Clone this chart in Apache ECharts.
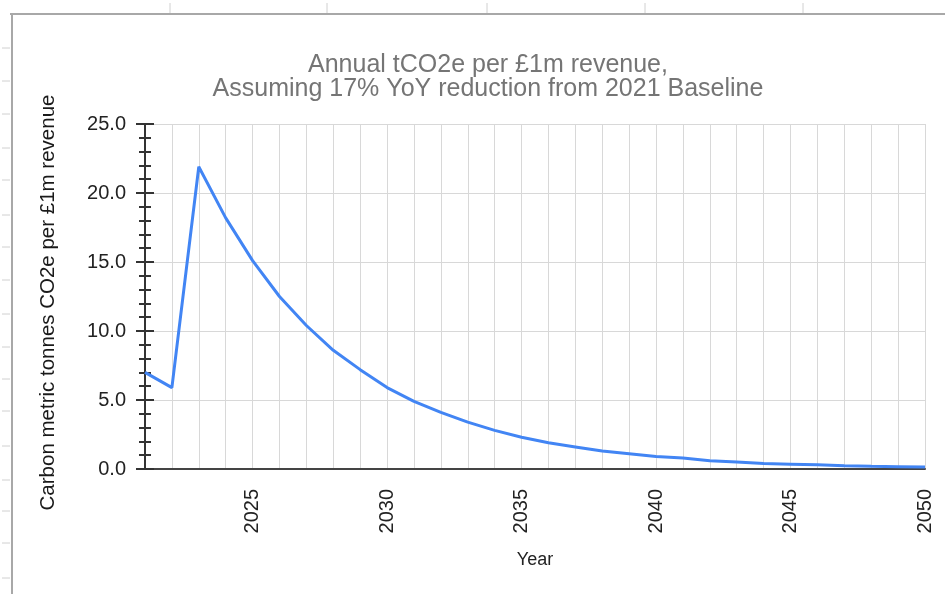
<!DOCTYPE html>
<html>
<head>
<meta charset="utf-8">
<script src="https://cdn.jsdelivr.net/npm/echarts@6/dist/echarts.min.js"></script>
<style>
html,body{margin:0;padding:0;background:#fff;}
#chart{width:945px;height:594px;}
</style>
</head>
<body>
<div id="chart"></div>
<script>
// Data
const years = [2021,2022,2023,2024,2025,2026,2027,2028,2029,2030,2031,2032,2033,2034,2035,2036,2037,2038,2039,2040,2041,2042,2043,2044,2045,2046,2047,2048,2049,2050];
const tco2e = [7.0,5.9,21.9,18.2,15.1,12.5,10.4,8.6,7.2,5.9,4.9,4.1,3.4,2.8,2.3,1.9,1.6,1.3,1.1,0.9,0.8,0.6,0.5,0.4,0.35,0.3,0.24,0.2,0.17,0.14];
const yTicks = [0, 5, 10, 15, 20, 25];
const xLabelYears = [2025, 2030, 2035, 2040, 2045, 2050];

const titleText = 'Annual tCO2e per £1m revenue,\nAssuming 17% YoY reduction from 2021 Baseline';
const xName = 'Year';
const yName = 'Carbon metric tonnes CO2e per £1m revenue';

const FONT = '"Liberation Sans", Arial, Helvetica, sans-serif';
const chart = echarts.init(document.getElementById('chart'), null, {renderer: 'canvas'});

// spreadsheet frame decorations (not data)
const deco = [];
deco.push({type:'line', shape:{x1:10,y1:14,x2:945,y2:14}, style:{stroke:'#a8a8a8', lineWidth:2}, silent:true, z:0});
deco.push({type:'line', shape:{x1:12,y1:14,x2:12,y2:594}, style:{stroke:'#a8a8a8', lineWidth:2}, silent:true, z:0});
[170,327,487,645,803].forEach(x => deco.push({type:'line', shape:{x1:x,y1:3,x2:x,y2:13}, style:{stroke:'#d0d0d0', lineWidth:1}, silent:true}));
[48,81,114,148,180,215,247,280,314,347,379,411,446,480,511,543,578].forEach(y => deco.push({type:'line', shape:{x1:2,y1:y,x2:10,y2:y}, style:{stroke:'#d0d0d0', lineWidth:1}, silent:true}));

const yMin = yTicks[0], yMax = yTicks[yTicks.length-1], yStep = yTicks[1]-yTicks[0];

chart.setOption({
  backgroundColor: '#ffffff',
  animation: false,
  textStyle: {fontFamily: FONT},
  title: {
    text: titleText,
    left: 483,
    top: 48,
    textAlign: 'center',
    textStyle: {fontFamily: FONT, fontSize: 25, fontWeight: 'normal', color: '#757575', lineHeight: 24}
  },
  graphic: deco,
  grid: {left: 145, right: 20, top: 124, bottom: 125, containLabel: false},
  xAxis: {
    type: 'value',
    min: years[0],
    max: years[years.length-1],
    interval: 1,
    name: xName,
    nameLocation: 'middle',
    nameGap: 82,
    nameTextStyle: {fontFamily: FONT, fontSize: 18, color: '#222'},
    axisLine: {show: true, onZero: false, lineStyle: {color: '#444', width: 2}},
    axisTick: {show: false},
    axisLabel: {
      rotate: 90,
      margin: 20,
      fontSize: 20,
      color: '#222',
      fontFamily: FONT,
      formatter: v => xLabelYears.indexOf(v) >= 0 ? String(v) : ''
    },
    splitLine: {show: true, lineStyle: {color: '#d8d8d8', width: 1}}
  },
  yAxis: [{
    type: 'value',
    min: yMin, max: yMax, interval: yStep,
    position: 'left',
    name: yName,
    nameLocation: 'middle',
    nameGap: 86,
    nameTextStyle: {fontFamily: FONT, fontSize: 20.5, color: '#1a1a1a', padding: [0, 12, 0, 0]},
    axisLine: {show: true, lineStyle: {color: '#333', width: 2}},
    axisTick: {show: true, inside: false, length: 9, lineStyle: {color: '#333', width: 2}},
    minorTick: {show: true, splitNumber: 5, length: 6, lineStyle: {color: '#333', width: 2}},
    axisLabel: {margin: 19, fontSize: 20, color: '#222', fontFamily: FONT, formatter: v => v.toFixed(1)},
    splitLine: {show: true, lineStyle: {color: '#d8d8d8', width: 1}}
  }, {
    type: 'value',
    min: yMin, max: yMax, interval: yStep,
    position: 'left',
    offset: 0,
    axisLine: {show: false},
    axisTick: {show: true, inside: true, length: 9, lineStyle: {color: '#333', width: 2}},
    minorTick: {show: true, splitNumber: 5, length: 6, lineStyle: {color: '#333', width: 2}},
    axisLabel: {show: false},
    splitLine: {show: false}
  }],
  series: [{
    type: 'line',
    yAxisIndex: 0,
    data: years.map((y, i) => [y, tco2e[i]]),
    showSymbol: false,
    smooth: false,
    lineStyle: {color: '#4285F4', width: 3},
    itemStyle: {color: '#4285F4'},
    z: 5
  }]
});
</script>
</body>
</html>
